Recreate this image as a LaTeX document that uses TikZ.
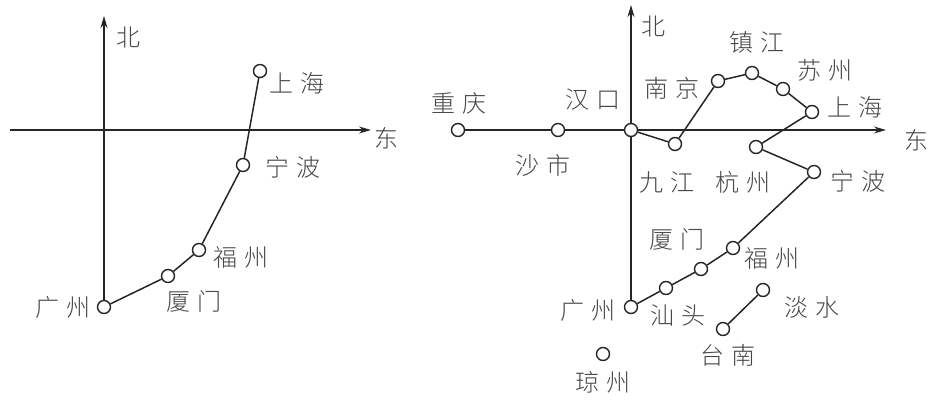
\documentclass[tikz,border=0pt]{standalone}
\usepackage{fontspec}
\newfontfamily\cjk{Noto Sans CJK SC Light}
\usetikzlibrary{arrows.meta}
\newcommand\gp{\hspace{0.3em}}
\tikzset{
  city/.style={circle,draw=black!85,fill=white,line width=1.4pt,inner sep=0pt,minimum size=13pt},
  lbl/.style={font=\cjk\fontsize{24}{24}\selectfont,text=black!72,inner sep=0pt},
  conn/.style={draw=black!85,line width=1.5pt},
  axis/.style={draw=black!85,line width=1.2pt,-{Stealth[length=12pt,width=7pt]}},
}
\begin{document}
\begin{tikzpicture}[x=1pt,y=-1pt]
\useasboundingbox (0,0) rectangle (941,401);
% ---------- left diagram ----------
\coordinate (wL) at (10,130);
\coordinate (eL) at (371,130);
\coordinate (nL) at (104,16);
\node[city] (gzL) at (104,307) {};
\node[city] (xmL) at (168,276) {};
\node[city] (fzL) at (199,250) {};
\node[city] (nbL) at (243,165) {};
\node[city] (shL) at (260,71) {};
\draw[axis] (wL) -- (eL);
\draw[axis] (gzL) -- (nL);
\draw[conn] (shL) -- (nbL) -- (fzL) -- (xmL) -- (gzL);
\node[lbl] (tbL) at (128,38) {北};
\node[lbl] (tdL) at (386,138) {东};
\node[lbl] (tshL) at (297,83) {上\gp 海};
\node[lbl] (tnbL) at (293,167) {宁\gp 波};
\node[lbl] (tfzL) at (241,257) {福\gp 州};
\node[lbl] (txmL) at (194,301) {厦\gp 门};
\node[lbl] (tgzL) at (63,307) {广\gp 州};
% ---------- right diagram ----------
\coordinate (eR) at (886,130);
\coordinate (nR) at (631,5);
\node[city] (cq) at (458,130) {};
\node[city] (ss) at (558,130) {};
\node[city] (hk) at (631,130) {};
\node[city] (jj) at (675,144) {};
\node[city] (nj) at (718,81) {};
\node[city] (zj) at (752,73) {};
\node[city] (sz) at (783,89) {};
\node[city] (sh) at (812,112) {};
\node[city] (hz) at (756,147) {};
\node[city] (nb) at (814,172) {};
\node[city] (fz) at (733,248) {};
\node[city] (xm) at (701,269) {};
\node[city] (st) at (666,288) {};
\node[city] (gz) at (631,307) {};
\node[city] (ds) at (763,290) {};
\node[city] (tn) at (723,329) {};
\node[city] (qz) at (603,354) {};
\draw[axis] (cq) -- (ss) -- (hk) -- (eR);
\draw[axis] (gz) -- (hk) -- (nR);
\draw[conn] (hk) -- (jj) -- (nj) -- (zj) -- (sz) -- (sh) -- (hz) -- (nb) -- (fz) -- (xm) -- (st) -- (gz);
\draw[conn] (ds) -- (tn);
\node[lbl] (tbR) at (653,27) {北};
\node[lbl] (tdR) at (916,140) {东};
\node[lbl] (tcq) at (459,103) {重\gp 庆};
\node[lbl] (tss) at (543,165) {沙\gp 市};
\node[lbl] (thk) at (593,100) {汉\gp 口};
\node[lbl] (tjj) at (667,182) {九\gp 江};
\node[lbl] (tnj) at (672,88) {南\gp 京};
\node[lbl] (tzj) at (757,42) {镇\gp 江};
\node[lbl] (tsz) at (825,70) {苏\gp 州};
\node[lbl] (tsh) at (855,107) {上\gp 海};
\node[lbl] (thz) at (743,182) {杭\gp 州};
\node[lbl] (tnb) at (858,181) {宁\gp 波};
\node[lbl] (tfz) at (772,258) {福\gp 州};
\node[lbl] (txm) at (677,239) {厦\gp 门};
\node[lbl] (tst) at (678,315) {汕\gp 头};
\node[lbl] (tgz) at (588,310) {广\gp 州};
\node[lbl] (tds) at (812,307) {淡\gp 水};
\node[lbl] (ttn) at (728,355) {台\gp 南};
\node[lbl] (tqz) at (603,382) {琼\gp 州};
\end{tikzpicture}
\end{document}
